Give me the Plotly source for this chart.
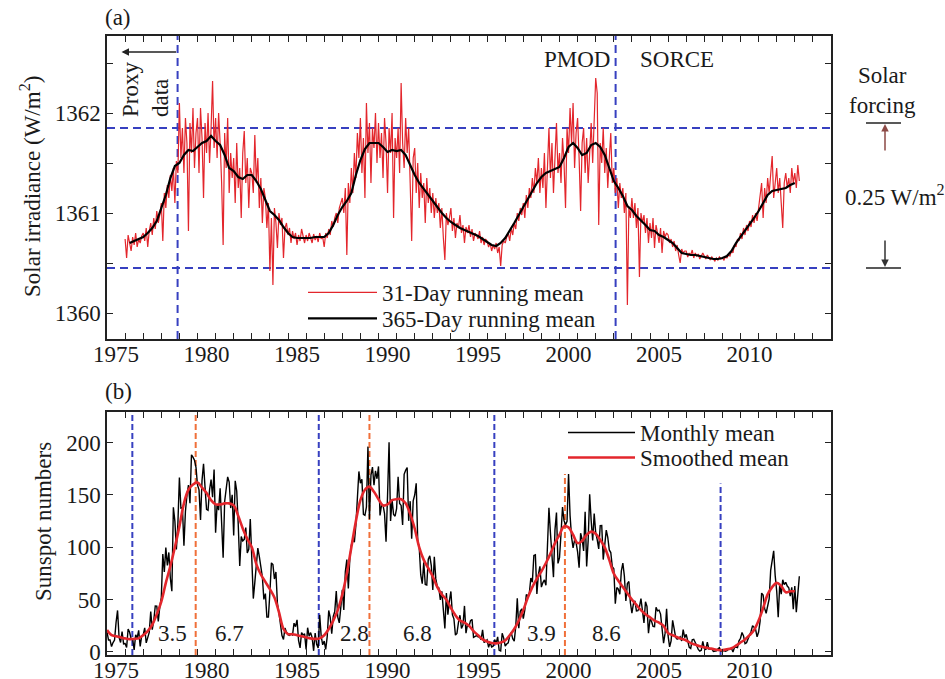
import plotly.graph_objects as go

W, H = 945, 679
FONT = "Liberation Serif, Times New Roman, serif"
TXT = "#1a1a1a"
RED = "#e3262c"
BLUE = "#3740c0"
ORANGE = "#f0703a"


def px(x):
    return x / W


def py(y):
    return 1 - y / H


# ---------------- data ----------------
# Panel (a): total solar irradiance, 31-day running mean, monthly samples from 1976.0
tsi31_start = 1976.0
tsi31 = [
    1360.74, 1360.55, 1360.78, 1360.70, 1360.62, 1360.76, 1360.68, 1360.80, 1360.66, 1360.74, 1360.70, 1360.77,
    1360.80, 1360.72, 1360.85, 1360.66, 1360.82, 1360.90, 1360.78, 1360.95, 1360.84, 1361.02, 1360.90, 1360.98,
    1361.10, 1360.72, 1361.20, 1361.05, 1361.28, 1361.15, 1361.38, 1361.22, 1361.45, 1361.10, 1361.52, 1361.40,
    1362.10, 1361.55, 1361.85, 1361.40, 1361.95, 1361.70, 1360.82, 1361.90, 1361.60, 1362.05, 1361.45, 1361.80,
    1361.95, 1361.40, 1362.05, 1361.75, 1361.15, 1361.90, 1361.60, 1362.00, 1361.50, 1361.85, 1362.32, 1361.65,
    1361.95, 1361.55, 1362.00, 1361.70, 1361.30, 1360.68, 1361.80, 1361.45, 1361.95, 1361.20, 1361.60, 1361.35,
    1361.55, 1361.10, 1361.70, 1361.25, 1361.45, 1360.95, 1361.60, 1361.82, 1361.30, 1361.55, 1361.05, 1361.45,
    1361.40, 1361.20, 1361.78, 1361.30, 1361.55, 1361.05, 1361.35, 1360.90, 1361.25, 1361.15, 1360.85, 1361.10,
    1360.42, 1360.95, 1360.28, 1361.05, 1360.90, 1360.65, 1361.00, 1360.88, 1360.95, 1360.55, 1360.85, 1360.90,
    1360.78, 1360.85, 1360.70, 1360.82, 1360.74, 1360.80, 1360.68, 1360.78, 1360.72, 1360.84, 1360.75, 1360.70,
    1360.78, 1360.72, 1360.80, 1360.74, 1360.70, 1360.79, 1360.73, 1360.77, 1360.71, 1360.80, 1360.74, 1360.76,
    1360.66, 1360.80, 1360.75, 1360.84, 1360.78, 1360.92, 1360.86, 1360.95, 1361.00, 1360.90, 1361.05, 1361.10,
    1361.15, 1361.00, 1361.25, 1360.58, 1361.30, 1361.10, 1361.45, 1361.20, 1361.60, 1361.35, 1361.80, 1361.55,
    1361.95, 1361.40, 1361.75, 1361.15, 1362.10, 1361.60, 1361.90, 1361.30, 1361.85, 1361.65, 1362.00, 1361.50,
    1361.90, 1361.55, 1361.80, 1361.35, 1361.95, 1361.70, 1361.20, 1361.85, 1361.60, 1362.00, 1360.95, 1361.75,
    1361.55, 1361.85, 1361.40, 1362.30, 1361.70, 1361.45, 1361.95, 1361.60, 1361.85, 1361.30, 1360.72, 1361.55,
    1361.65, 1361.20, 1361.50, 1361.05, 1361.40, 1361.15, 1361.30, 1360.90, 1361.35, 1361.10, 1361.25, 1361.00,
    1361.20, 1360.95, 1361.15, 1361.00, 1361.10, 1360.85, 1361.05, 1360.75, 1360.53, 1361.00, 1360.88, 1360.95,
    1361.05, 1360.82, 1360.95, 1360.75, 1360.90, 1360.85, 1360.98, 1360.80, 1360.88, 1360.70, 1360.86, 1360.80,
    1360.88, 1360.76, 1360.84, 1360.72, 1360.80, 1360.78, 1360.74, 1360.82, 1360.70, 1360.76, 1360.68, 1360.74,
    1360.72, 1360.66, 1360.70, 1360.62, 1360.68, 1360.64, 1360.70, 1360.60, 1360.66, 1360.47, 1360.68, 1360.72,
    1360.70, 1360.76, 1360.80, 1360.72, 1360.85, 1360.78, 1360.90, 1360.84, 1361.00, 1360.92, 1361.05, 1360.98,
    1361.10, 1360.95, 1361.18, 1361.05, 1361.25, 1361.15, 1361.35, 1361.20, 1361.45, 1361.30, 1361.55, 1361.20,
    1361.45, 1361.25, 1361.60, 1361.05, 1361.50, 1361.85, 1361.35, 1361.70, 1361.20, 1361.55, 1361.90, 1361.40,
    1361.60, 1361.30, 1361.75, 1361.50, 1361.05, 1361.85, 1361.60, 1362.05, 1361.70, 1362.10, 1361.45, 1361.80,
    1361.95, 1361.55, 1361.02, 1361.70, 1361.85, 1361.40, 1361.75, 1361.30, 1361.65, 1361.90, 1361.50, 1362.00,
    1362.35, 1362.20, 1360.88, 1361.70, 1361.50, 1361.85, 1361.40, 1361.65, 1361.25, 1361.55, 1361.80, 1361.30,
    1361.45, 1361.20, 1361.35, 1361.05, 1361.30, 1361.15, 1361.25, 1361.00, 1361.20, 1360.08, 1361.05, 1360.95,
    1361.15, 1360.95, 1361.10, 1360.85, 1361.05, 1360.36, 1361.00, 1360.90, 1360.98, 1360.80, 1360.95, 1360.70,
    1360.90, 1360.75, 1360.95, 1360.65, 1360.88, 1360.80, 1360.70, 1360.85, 1360.60, 1360.82, 1360.76, 1360.80,
    1360.78, 1360.70, 1360.74, 1360.66, 1360.72, 1360.62, 1360.68, 1360.58, 1360.50, 1360.64, 1360.60, 1360.62,
    1360.62, 1360.56, 1360.60, 1360.58, 1360.63, 1360.55, 1360.60, 1360.57, 1360.59, 1360.54, 1360.58, 1360.60,
    1360.57, 1360.54, 1360.58, 1360.55, 1360.53, 1360.56, 1360.54, 1360.52, 1360.55, 1360.53, 1360.56, 1360.54,
    1360.55, 1360.53, 1360.56, 1360.55, 1360.58, 1360.57, 1360.62, 1360.60, 1360.68, 1360.66, 1360.74, 1360.72,
    1360.80, 1360.74, 1360.85, 1360.78, 1360.88, 1360.82, 1360.92, 1360.86, 1360.98, 1360.90, 1361.00, 1360.92,
    1361.05, 1361.15, 1361.30, 1360.95, 1361.25, 1361.10, 1361.35, 1361.20, 1361.40, 1361.57, 1361.15, 1361.30,
    1361.45, 1361.20, 1361.35, 1361.10, 1360.85, 1361.30, 1361.40, 1361.25, 1361.35, 1361.20, 1361.45, 1361.30,
    1361.40, 1361.25, 1361.48, 1361.32,
]

# Panel (a): 365-day running mean, quarterly samples from 1976.25
tsi365_start = 1976.25
tsi365 = [
    1360.70, 1360.72, 1360.74, 1360.76,
    1360.80, 1360.85, 1360.92, 1361.05,
    1361.18, 1361.35, 1361.47, 1361.50,
    1361.58, 1361.63, 1361.62, 1361.66,
    1361.70, 1361.72, 1361.77, 1361.72,
    1361.68, 1361.58, 1361.45, 1361.42,
    1361.36, 1361.34, 1361.38, 1361.38,
    1361.32, 1361.24, 1361.12, 1361.02,
    1360.98, 1360.93, 1360.86, 1360.80,
    1360.76, 1360.75, 1360.75, 1360.75,
    1360.75, 1360.76, 1360.76, 1360.76,
    1360.80, 1360.88, 1360.98, 1361.06,
    1361.12, 1361.20, 1361.38, 1361.53,
    1361.64, 1361.70, 1361.70, 1361.70,
    1361.66, 1361.61, 1361.63, 1361.62,
    1361.63, 1361.58, 1361.48, 1361.38,
    1361.30, 1361.24, 1361.17, 1361.12,
    1361.06, 1361.00, 1360.95, 1360.91,
    1360.88, 1360.85, 1360.83, 1360.81,
    1360.79, 1360.77, 1360.74, 1360.71,
    1360.68, 1360.67, 1360.70, 1360.75,
    1360.82, 1360.90, 1360.98, 1361.06,
    1361.14, 1361.22, 1361.30, 1361.36,
    1361.40, 1361.42, 1361.44, 1361.46,
    1361.55, 1361.66, 1361.70, 1361.65,
    1361.58, 1361.60, 1361.68, 1361.70,
    1361.66, 1361.58, 1361.45, 1361.32,
    1361.25, 1361.17, 1361.07, 1361.03,
    1360.97, 1360.93, 1360.88, 1360.83,
    1360.82, 1360.78, 1360.76, 1360.73,
    1360.70, 1360.65, 1360.60, 1360.59,
    1360.58, 1360.58, 1360.57, 1360.56,
    1360.55, 1360.54, 1360.54, 1360.55,
    1360.57, 1360.62, 1360.70, 1360.76,
    1360.83, 1360.88, 1360.95, 1361.02,
    1361.10, 1361.18, 1361.22, 1361.23,
    1361.24, 1361.25, 1361.28, 1361.30,
]

# Panel (b): monthly mean sunspot numbers from 1975.0
ssn_start = 1975.0
ssn_monthly = [
    18.9, 11.5, 11.5, 5.1, 9.0, 11.4, 28.2, 39.7, 13.9, 9.1, 19.4, 7.8,
    8.1, 4.3, 21.9, 18.8, 12.4, 12.2, 1.9, 16.4, 13.5, 20.6, 5.2, 15.3,
    16.4, 23.1, 8.7, 12.9, 18.6, 38.5, 21.4, 30.1, 44.0, 43.8, 29.1, 43.2,
    51.9, 93.6, 76.5, 99.7, 82.7, 95.1, 70.4, 58.1, 138.2, 125.1, 97.9, 122.7,
    166.6, 137.5, 138.0, 101.5, 134.4, 149.5, 159.4, 142.2, 188.4, 186.2, 183.3, 176.3,
    159.6, 155.0, 126.2, 164.1, 179.9, 157.3, 136.3, 135.4, 155.0, 164.7, 147.9, 174.4,
    114.0, 141.3, 135.5, 156.4, 127.5, 90.0, 143.8, 158.7, 167.3, 162.4, 137.5, 150.1,
    111.2, 163.6, 153.8, 122.0, 82.2, 110.4, 106.1, 107.6, 118.8, 94.7, 98.1, 127.0,
    84.3, 51.0, 66.5, 80.7, 99.2, 91.1, 82.2, 71.8, 50.3, 55.8, 33.3, 33.4,
    57.0, 85.1, 83.5, 69.7, 76.4, 46.1, 37.4, 25.5, 15.7, 12.0, 22.8, 18.7,
    16.5, 15.9, 17.2, 16.2, 27.5, 24.2, 30.7, 11.1, 3.9, 18.6, 16.2, 17.3,
    2.5, 23.2, 15.1, 18.5, 13.7, 1.1, 18.1, 7.4, 3.8, 35.4, 15.2, 6.8,
    10.4, 2.4, 14.7, 39.6, 33.0, 17.4, 33.9, 38.8, 58.3, 33.3, 27.8, 42.4,
    59.5, 40.2, 76.5, 88.2, 60.8, 89.6, 102.0, 107.6, 104.8, 121.4, 143.0, 172.5,
    161.3, 165.1, 131.4, 130.6, 138.5, 196.2, 126.9, 168.9, 176.7, 159.4, 173.0, 165.5,
    177.3, 130.5, 140.3, 140.3, 132.2, 105.4, 149.4, 200.3, 125.2, 145.5, 131.4, 129.7,
    136.9, 167.5, 141.9, 140.0, 121.3, 169.7, 173.7, 176.3, 125.3, 144.1, 108.2, 144.4,
    150.0, 161.1, 106.7, 99.8, 73.8, 65.2, 85.7, 64.5, 63.9, 88.7, 91.8, 82.6,
    59.3, 91.0, 69.8, 62.2, 61.3, 49.8, 57.9, 42.2, 22.4, 56.4, 35.6, 48.9,
    57.8, 35.5, 31.7, 16.1, 17.8, 28.0, 35.1, 22.5, 25.7, 44.0, 18.0, 26.2,
    24.2, 29.9, 31.1, 14.0, 14.5, 15.6, 14.5, 14.3, 11.8, 21.1, 9.0, 10.0,
    11.5, 4.4, 9.2, 4.8, 5.5, 11.8, 8.2, 14.4, 1.6, 0.9, 17.9, 13.3,
    5.7, 7.6, 8.7, 15.5, 18.5, 12.7, 10.4, 24.4, 51.3, 22.8, 39.0, 41.2,
    31.9, 40.3, 54.8, 53.4, 56.3, 70.7, 66.6, 92.2, 92.9, 55.5, 74.0, 81.9,
    62.0, 66.3, 68.8, 63.7, 106.4, 137.7, 113.5, 93.7, 71.5, 116.7, 133.2, 84.6,
    90.1, 112.9, 138.5, 125.5, 121.6, 124.9, 170.1, 130.5, 109.7, 99.4, 106.8, 104.4,
    95.6, 80.6, 113.5, 107.7, 96.6, 134.0, 81.8, 106.4, 150.7, 125.5, 106.5, 132.2,
    114.1, 107.4, 98.4, 120.7, 120.8, 88.3, 99.6, 116.4, 109.6, 97.5, 95.0, 81.6,
    79.5, 46.2, 61.5, 60.0, 55.2, 77.4, 85.0, 72.7, 48.8, 65.5, 67.3, 47.0,
    37.2, 46.0, 48.9, 39.3, 39.5, 43.2, 51.0, 40.9, 27.7, 48.0, 43.5, 17.9,
    31.3, 29.2, 24.5, 24.2, 42.7, 39.3, 40.0, 36.2, 22.1, 8.5, 18.0, 41.2,
    15.3, 4.9, 10.6, 30.2, 22.3, 13.9, 12.2, 12.9, 14.4, 10.5, 21.4, 13.6,
    16.8, 10.7, 4.5, 3.4, 11.7, 12.1, 9.7, 6.0, 2.4, 0.9, 1.7, 10.1,
    3.4, 2.1, 9.3, 2.9, 2.9, 3.1, 0.5, 0.5, 1.1, 2.9, 4.1, 0.8,
    1.5, 1.4, 0.7, 1.2, 2.9, 2.6, 3.5, 0.0, 4.2, 4.6, 4.2, 10.6,
    13.1, 18.6, 15.4, 7.9, 8.8, 13.5, 16.1, 19.6, 25.2, 23.5, 21.6, 14.5,
    19.0, 29.4, 56.2, 54.4, 41.6, 37.0, 43.9, 50.6, 78.0, 88.0, 96.7, 73.0,
    58.3, 33.1, 64.2, 55.2, 69.0, 64.5, 66.5, 63.0, 61.4, 53.3, 61.8, 40.8,
    62.9, 38.1, 57.9, 72.4,
]

# Panel (b): smoothed sunspot numbers, quarterly samples from 1975.0
ssn_smooth_start = 1975.0
ssn_smooth = [
    21, 16, 15, 14,
    13, 12.3, 12.5, 13,
    16, 20, 26, 36,
    48, 66, 82, 100,
    120, 142, 155, 160,
    162, 157, 152, 145,
    141, 141, 142, 142,
    140, 130, 118, 108,
    100, 84, 74, 67,
    60, 52, 38, 22,
    17, 17, 16, 15,
    14, 13, 12.5, 13,
    16, 22, 30, 40,
    55, 75, 100, 125,
    145, 155, 158, 153,
    146, 140, 141, 145,
    146, 146, 142, 132,
    118, 100, 88, 80,
    72, 62, 55, 50,
    42, 35, 30, 28,
    25, 20, 16, 12,
    10, 8.5, 8.2, 9,
    11, 16, 22, 30,
    40, 52, 62, 70,
    77, 85, 94, 104,
    112, 120, 119, 112,
    104, 106, 112, 115,
    113, 107, 100, 88,
    75, 68, 62, 56,
    50, 45, 40, 36,
    33, 30, 28, 25,
    18, 16, 14, 12.5,
    11, 8.5, 7, 5.5,
    4.5, 3.5, 2.8, 1.8,
    1.8, 2.5, 3.5, 6,
    9, 12, 16, 21,
    30, 42, 55, 62,
    66, 63, 57, 58,
    58,
]

# Reference lines and labels
irr_levels = [1361.85, 1360.45]          # horizontal dashed lines, panel (a)
record_breaks = [1978.9, 2003.1]         # proxy/PMOD and PMOD/SORCE boundaries
cycle_minima = [1976.4, 1986.7, 1996.4, 2008.9]
cycle_min_tops = [None, None, None, 161]
cycle_maxima = [1979.9, 1989.5, 2000.3]
cycle_max_tops = [None, None, 170]
phase_labels = ["3.5", "6.7", "2.8", "6.8", "3.9", "8.6"]
phase_label_x = [1978.64, 1981.78, 1988.66, 1992.13, 1999.02, 2002.60]
phase_label_y = 18

year_ticks = list(range(1975, 2016))
year_text = [str(y) if (y % 5 == 0 and y < 2015) else "" for y in year_ticks]
irr_ticks = [1360.0, 1360.5, 1361.0, 1361.5, 1362.0, 1362.5]
irr_text = ["1360", "", "1361", "", "1362", ""]
ssn_ticks = [0, 50, 100, 150, 200]

# ---------------- figure ----------------
t31 = [tsi31_start + i / 12 for i in range(len(tsi31))]
t365 = [tsi365_start + i / 4 for i in range(len(tsi365))]
tssn = [ssn_start + i / 12 for i in range(len(ssn_monthly))]
tsm = [ssn_smooth_start + i / 4 for i in range(len(ssn_smooth))]

fig = go.Figure()
fig.add_trace(go.Scatter(x=t31, y=tsi31, mode="lines", name="31-Day running mean",
                         line=dict(color=RED, width=1.2), xaxis="x", yaxis="y", legend="legend"))
fig.add_trace(go.Scatter(x=t365, y=tsi365, mode="lines", name="365-Day running mean",
                         line=dict(color="black", width=2.2), xaxis="x", yaxis="y", legend="legend2"))
fig.add_trace(go.Scatter(x=tssn, y=ssn_monthly, mode="lines", name="Monthly mean",
                         line=dict(color="black", width=1.4), xaxis="x2", yaxis="y2", legend="legend3"))
fig.add_trace(go.Scatter(x=tsm, y=ssn_smooth, mode="lines", name="Smoothed mean",
                         line=dict(color=RED, width=2.6, shape="spline"), xaxis="x2", yaxis="y2",
                         legend="legend4"))

shapes = []
for v in irr_levels:
    shapes.append(dict(type="line", xref="x domain", x0=0, x1=1, yref="y", y0=v, y1=v,
                       line=dict(color=BLUE, width=2, dash="8px,5px"), layer="below"))
for v in record_breaks:
    shapes.append(dict(type="line", xref="x", x0=v, x1=v, yref="y domain", y0=0, y1=1,
                       line=dict(color=BLUE, width=2, dash="8px,5px"), layer="below"))
for v, top in zip(cycle_minima, cycle_min_tops):
    if top is None:
        shapes.append(dict(type="line", xref="x2", x0=v, x1=v, yref="y2 domain", y0=0, y1=1,
                           line=dict(color=BLUE, width=2, dash="6px,3px"), layer="below"))
    else:
        shapes.append(dict(type="line", xref="x2", x0=v, x1=v, yref="y2", y0=-3, y1=top,
                           line=dict(color=BLUE, width=2, dash="6px,3px"), layer="below"))
for v, top in zip(cycle_maxima, cycle_max_tops):
    if top is None:
        shapes.append(dict(type="line", xref="x2", x0=v, x1=v, yref="y2 domain", y0=0, y1=1,
                           line=dict(color=ORANGE, width=2, dash="6px,3px"), layer="below"))
    else:
        shapes.append(dict(type="line", xref="x2", x0=v, x1=v, yref="y2", y0=-3, y1=top,
                           line=dict(color=ORANGE, width=2, dash="6px,3px"), layer="below"))
# forcing bracket bars (outside plot)
for yy in (123, 268):
    shapes.append(dict(type="line", xref="paper", yref="paper", x0=px(866), x1=px(901),
                       y0=py(yy), y1=py(yy), line=dict(color="#222", width=1.5)))

f = dict(family=FONT, size=23, color=TXT)


def note(text, x, y, **kw):
    d = dict(text=text, x=px(x), y=py(y), xref="paper", yref="paper", showarrow=False,
             xanchor="center", yanchor="middle", font=f)
    d.update(kw)
    return d


ann = [
    note("(a)", 118, 17),
    note("(b)", 118, 392),
    note("Solar irradiance (W/m<sup>2</sup>)", 30, 187, textangle=-90),
    note("Sunspot numbers", 43, 522, textangle=-90),
    note("Proxy<br>data", 146, 90, textangle=-90, align="left"),
    note("PMOD", 612, 59, xanchor="right"),
    note("SORCE", 677, 59),
    note("Solar<br>forcing", 882, 91),
    note("0.25 W/m<sup>2</sup>", 843, 196, xanchor="left"),
]
ann.append(dict(text="", x=1975.8, y=1362.61, ax=record_breaks[0], ay=1362.61, xref="x", yref="y",
                axref="x", ayref="y", showarrow=True, arrowhead=2, arrowsize=1, arrowwidth=1.5,
                arrowcolor="#222"))
ann.append(dict(text="", x=px(885), y=py(124), xref="paper", yref="paper", ax=0, ay=28,
                showarrow=True, arrowhead=2, arrowsize=1, arrowwidth=1.5, arrowcolor="#8c4a46"))
ann.append(dict(text="", x=px(885), y=py(267), xref="paper", yref="paper", ax=0, ay=-28,
                showarrow=True, arrowhead=2, arrowsize=1, arrowwidth=1.5, arrowcolor="#333"))
for lab, xv in zip(phase_labels, phase_label_x):
    ann.append(dict(text=lab, x=xv, y=phase_label_y, xref="x2", yref="y2", showarrow=False,
                    xanchor="center", yanchor="middle", font=f))

axis_common = dict(showline=True, linecolor="#222", linewidth=1.5, mirror="allticks", ticks="inside",
                   ticklen=6, tickwidth=1.2, tickcolor="#222", showgrid=False, zeroline=False,
                   tickfont=f, automargin=False)


def leg(x, ytop, iw):
    return dict(x=px(x), y=py(ytop), xanchor="left", yanchor="top", bgcolor="rgba(0,0,0,0)",
                font=f, itemwidth=iw, tracegroupgap=0)


fig.update_layout(
    width=W, height=H, margin=dict(l=0, r=0, t=0, b=0, autoexpand=False),
    paper_bgcolor="white", plot_bgcolor="white", font=f,
    xaxis=dict(domain=[px(107), px(831)], anchor="y", range=[1975, 2015], tickvals=year_ticks,
               ticktext=year_text, ticklabelshift=9, ticklabelstandoff=-6, **axis_common),
    yaxis=dict(domain=[py(339), py(36)], anchor="x", range=[1359.74, 1362.77], tickvals=irr_ticks,
               ticktext=irr_text, **axis_common),
    xaxis2=dict(domain=[px(107), px(831)], anchor="y2", range=[1975, 2015], tickvals=year_ticks,
                ticktext=year_text, ticklabelshift=9, ticklabelstandoff=-6, **axis_common),
    yaxis2=dict(domain=[py(655), py(412)], anchor="x2", range=[-2.9, 229.3], tickvals=ssn_ticks,
                **axis_common),
    legend=leg(303, 271, 69),
    legend2=leg(303, 297, 69),
    legend3=leg(563, 411, 67),
    legend4=leg(563, 436, 67),
    shapes=shapes, annotations=ann, showlegend=True,
)

fig.write_html("out.html", config={"displayModeBar": False},
               post_script="document.body.style.margin='0';")
